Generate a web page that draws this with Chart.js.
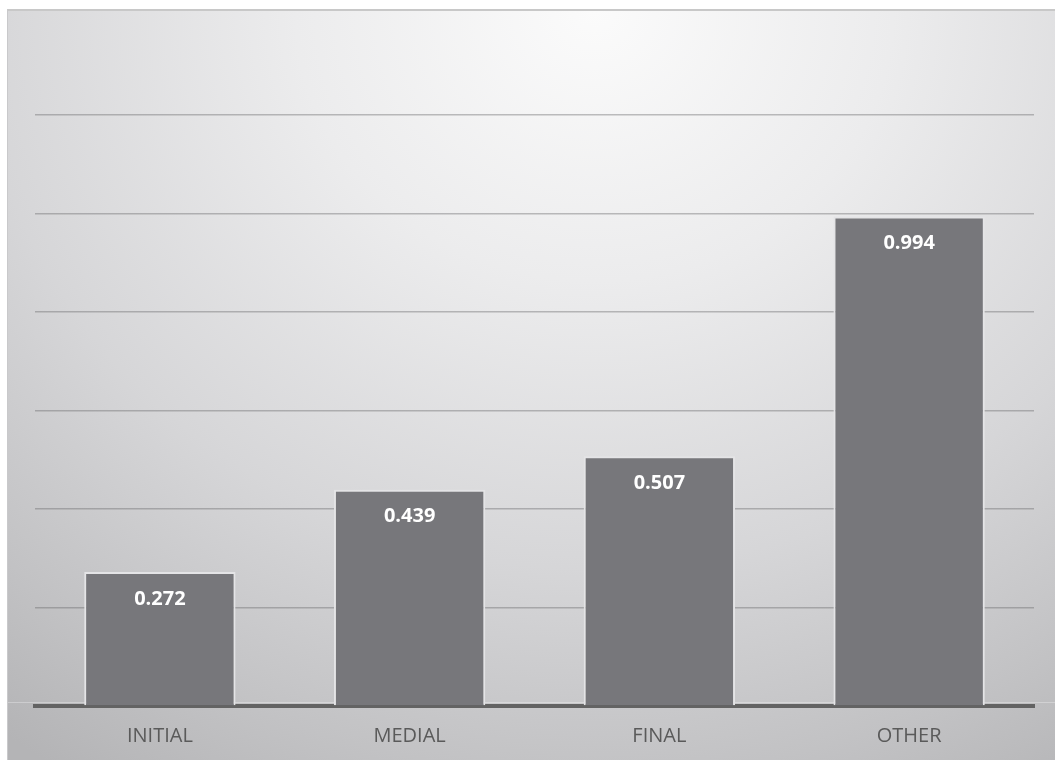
<!DOCTYPE html>
<html>
<head>
<meta charset="utf-8">
<script src="https://cdn.jsdelivr.net/npm/chart.js@4"></script>
<style>
    html, body {
        margin: 0;
        padding: 0;
        background: #ffffff;
    }
    #frame {
        position: absolute;
        left: 7px;
        top: 9px;
        width: 1048px;
        height: 751px;
        overflow: hidden;
        border-top: 2px solid #c8c8c8;
        border-left: 1px solid #c9c9cb;
        box-sizing: border-box;
        background: radial-gradient(ellipse 95% 120% at 56% 0%, #fbfbfb 0%, #ececed 30%, #d6d6d8 62%, #c2c2c4 85%, #b4b4b6 100%);
    }
    #frame canvas {
        display: block;
    }
</style>
</head>
<body>
<div id="frame">
    <canvas id="positionChart" width="1047" height="755"></canvas>
</div>
<script>
const categories = ['INITIAL', 'MEDIAL', 'FINAL', 'OTHER'];
const values = [0.272, 0.439, 0.507, 0.994];
const yMax = 1.2;
const yStep = 0.2;

// Value labels written in white just under the top of each bar
const barValueLabels = {
    id: 'barValueLabels',
    afterDatasetsDraw(chart) {
        const ctx = chart.ctx;
        const meta = chart.getDatasetMeta(0);
        ctx.save();
        ctx.fillStyle = '#ffffff';
        ctx.font = 'bold 20px "Open Sans"';
        ctx.textAlign = 'center';
        ctx.textBaseline = 'middle';
        meta.data.forEach((bar, i) => {
            const v = chart.data.datasets[0].data[i];
            ctx.fillText(v.toFixed(3), bar.x, bar.y + 27);
        });
        ctx.restore();
    }
};

// Faint highlight along the floor of the plot
const floorLine = {
    id: 'floorLine',
    beforeDatasetsDraw(chart) {
        const ctx = chart.ctx;
        const y = chart.scales.y.getPixelForValue(0) - 3.5;
        ctx.save();
        ctx.strokeStyle = 'rgba(255,255,255,0.3)';
        ctx.lineWidth = 1;
        ctx.beginPath();
        ctx.moveTo(0, y);
        ctx.lineTo(chart.width, y);
        ctx.stroke();
        ctx.restore();
    }
};

document.addEventListener("DOMContentLoaded", function () {
    const ctx = document.getElementById('positionChart').getContext('2d');

    const data = {
        labels: categories,
        datasets: [
            {
                data: values,
                backgroundColor: '#77777b',
                borderColor: '#e4e4e6',
                borderWidth: 2,
                borderSkipped: 'bottom',
                categoryPercentage: 1,
                barPercentage: 0.606
            }
        ]
    };

    const config = {
        type: 'bar',
        data: data,
        options: {
            responsive: false,
            animation: false,
            layout: {
                padding: { left: 27, right: 21, top: 104, bottom: 0 }
            },
            scales: {
                x: {
                    grid: { display: false, drawTicks: false },
                    border: { display: true, color: '#636363', width: 4 },
                    ticks: {
                        color: '#5a5a5a',
                        font: { family: '"Open Sans"', size: 20 },
                        padding: 18
                    }
                },
                y: {
                    min: 0,
                    max: yMax,
                    z: 1,
                    grid: {
                        color: (c) => c.tick.value === 0 ? 'rgba(0,0,0,0)' : 'rgba(105,105,108,0.42)',
                        lineWidth: 1.5,
                        drawTicks: false
                    },
                    border: { display: false },
                    ticks: { display: false, stepSize: yStep }
                }
            },
            plugins: {
                legend: { display: false },
                tooltip: { enabled: false },
                title: { display: false }
            }
        },
        plugins: [floorLine, barValueLabels]
    };

    new Chart(ctx, config);
});
</script>
</body>
</html>
